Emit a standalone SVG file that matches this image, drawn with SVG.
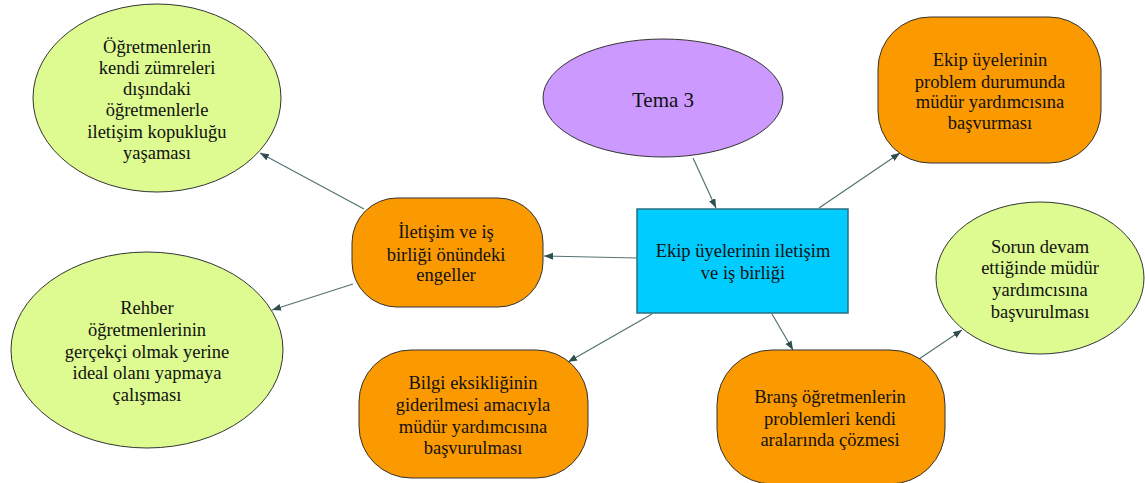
<svg xmlns="http://www.w3.org/2000/svg" width="1145" height="483" viewBox="0 0 1145 483">
<defs>
<style>
.green{fill:#ddfb90;stroke:#333;stroke-width:1}
.orange{fill:#fb9900;stroke:#333;stroke-width:1}
.purple{fill:#cc99ff;stroke:#333;stroke-width:1}
.blue{fill:#00ccff;stroke:#2b6f80;stroke-width:1.5}
.c{stroke:#557272;stroke-width:1.2;fill:none;marker-end:url(#ah)}
</style>
<marker id="ah" markerUnits="userSpaceOnUse" markerWidth="10" markerHeight="8" refX="9" refY="3.5" orient="auto">
<path d="M0,0 L9,3.5 L0,7 z" fill="#2f4f4f"/>
</marker>
</defs>
<rect width="1145" height="483" fill="#fff"/>
<g id="connectors">
<line class="c" x1="693" y1="158" x2="716" y2="208"/>
<line class="c" x1="819" y1="208" x2="900" y2="153"/>
<line class="c" x1="637" y1="258" x2="544" y2="256"/>
<line class="c" x1="364" y1="209" x2="260" y2="153"/>
<line class="c" x1="353" y1="284" x2="272" y2="310"/>
<line class="c" x1="652" y1="314" x2="568" y2="362"/>
<line class="c" x1="772" y1="314" x2="793" y2="350"/>
<line class="c" x1="919" y1="359" x2="962" y2="330"/>
</g>
<g font-family="Liberation Serif, Times New Roman, serif" font-size="18.5" fill="#111" text-anchor="middle">
<g id="n_zumre">
<ellipse class="green" cx="157" cy="98" rx="124" ry="94"/>
<text x="157" y="53">Öğretmenlerin</text>
<text x="157" y="74">kendi zümreleri</text>
<text x="157" y="95">dışındaki</text>
<text x="157" y="116">öğretmenlerle</text>
<text x="157" y="138">iletişim kopukluğu</text>
<text x="157" y="159">yaşaması</text>
</g>
<g id="n_rehber">
<ellipse class="green" cx="147" cy="350" rx="136" ry="98"/>
<text x="147" y="314">Rehber</text>
<text x="147" y="336">öğretmenlerinin</text>
<text x="147" y="358">gerçekçi olmak yerine</text>
<text x="147" y="379">ideal olanı yapmaya</text>
<text x="147" y="401">çalışması</text>
</g>
<g id="n_tema">
<ellipse class="purple" cx="663" cy="98" rx="120" ry="59"/>
<text font-size="21" x="663" y="107">Tema 3</text>
</g>
<g id="n_engeller">
<rect class="orange" x="352" y="198" width="191" height="109" rx="45" ry="45"/>
<text x="446" y="238">İletişim ve iş</text>
<text x="446" y="261">birliği önündeki</text>
<text x="446" y="281">engeller</text>
</g>
<g id="n_merkez">
<rect class="blue" x="637" y="209" width="211" height="104"/>
<text x="743" y="257">Ekip üyelerinin iletişim</text>
<text x="743" y="279">ve iş birliği</text>
</g>
<g id="n_problem">
<rect class="orange" x="878" y="17" width="223" height="146" rx="52" ry="52"/>
<text x="990" y="66">Ekip üyelerinin</text>
<text x="990" y="88">problem durumunda</text>
<text x="990" y="108">müdür yardımcısına</text>
<text x="990" y="129">başvurması</text>
</g>
<g id="n_sorun">
<ellipse class="green" cx="1040" cy="278" rx="104" ry="76"/>
<text x="1040" y="253">Sorun devam</text>
<text x="1040" y="274">ettiğinde müdür</text>
<text x="1040" y="296">yardımcısına</text>
<text x="1040" y="318">başvurulması</text>
</g>
<g id="n_bilgi">
<rect class="orange" x="359" y="350" width="229" height="128" rx="52" ry="52"/>
<text x="473" y="389">Bilgi eksikliğinin</text>
<text x="473" y="411">giderilmesi amacıyla</text>
<text x="473" y="433">müdür yardımcısına</text>
<text x="473" y="454">başvurulması</text>
</g>
<g id="n_brans">
<rect class="orange" x="717" y="350" width="228" height="134" rx="55" ry="55"/>
<text x="830" y="403">Branş öğretmenlerin</text>
<text x="830" y="425">problemleri kendi</text>
<text x="830" y="446">aralarında çözmesi</text>
</g>
</g>
</svg>
